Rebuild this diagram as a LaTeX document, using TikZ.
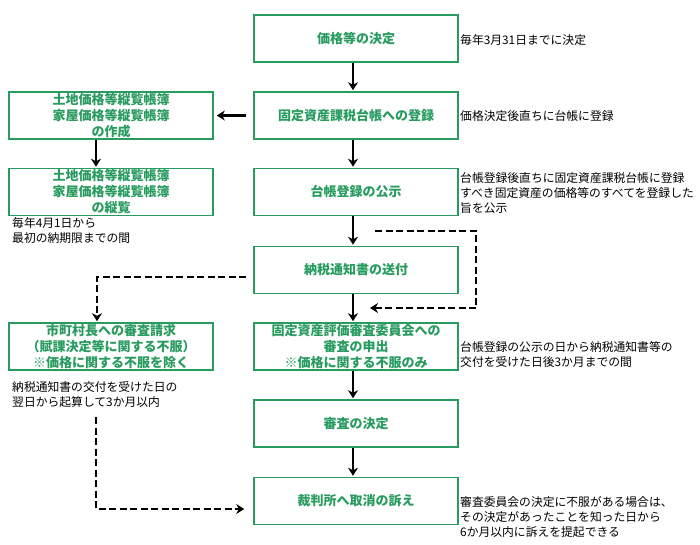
\documentclass[tikz,border=0pt]{standalone}
\usepackage{fontspec}
\newfontfamily\jp{Noto Sans CJK JP}
\usetikzlibrary{arrows.meta,calc}
\definecolor{boxgreen}{RGB}{40,155,95}
\begin{document}
\begin{tikzpicture}[x=1pt,y=-1pt,
  box/.style={draw=boxgreen, line width=1.6pt, minimum width=204pt, minimum height=47pt,
    inner sep=0pt, align=center, text=boxgreen, font=\jp\bfseries\fontsize{13}{16}\selectfont},
  note/.style={anchor=west, inner sep=0pt, align=left, font=\jp\fontsize{11.8}{15}\selectfont},
  arr/.style={-{Stealth[length=8pt,width=10pt]}, line width=2.2pt},
  darr/.style={arr, dash pattern=on 7pt off 3.5pt},
  dline/.style={line width=2.2pt, dash pattern=on 7pt off 3.5pt}
]
\useasboundingbox (0,0) rectangle (700,544);

% main column
\node[box] (b1) at (356,38.5) {価格等の決定};
\node[box] (b2) at (356,115.5) {固定資産課税台帳への登録};
\node[box] (b3) at (356,192) {台帳登録の公示};
\node[box] (b4) at (356,270) {納税通知書の送付};
\node[box] (b5) at (356,346.5) {固定資産評価審査委員会への\\審査の申出\\※価格に関する不服のみ};
\node[box] (b6) at (356,423.5) {審査の決定};
\node[box] (b7) at (356,501) {裁判所へ取消の訴え};

% left column
\node[box] (l1) at (111,115.5) {土地価格等縦覧帳簿\\家屋価格等縦覧帳簿\\の作成};
\node[box] (l2) at (111,192) {土地価格等縦覧帳簿\\家屋価格等縦覧帳簿\\の縦覧};
\node[box] (l3) at (111,346.5) {市町村長への審査請求\\（賦課決定等に関する不服）\\※価格に関する不服を除く};

% notes
\node[note] (n1) at (460,40) {毎年3月31日までに決定};
\node[note] (n2) at (460,116) {価格決定後直ちに台帳に登録};
\node[note] (n3) at (460,193) {台帳登録後直ちに固定資産課税台帳に登録\\すべき固定資産の価格等のすべてを登録した\\旨を公示};
\node[note] (n4) at (460,354.5) {台帳登録の公示の日から納税通知書等の\\交付を受けた日後3か月までの間};
\node[note] (n5) at (460,517) {審査委員会の決定に不服がある場合は、\\その決定があったことを知った日から\\6か月以内に訴えを提起できる};
\node[note] (n6) at (12,231) {毎年4月1日から\\最初の納期限までの間};
\node[note] (n7) at (12,394.5) {納税通知書の交付を受けた日の\\翌日から起算して3か月以内};

% main arrows
\foreach \a/\b in {b1/b2,b2/b3,b3/b4,b4/b5,b5/b6,b6/b7}{
  \draw[arr] ($(\a.south)+(-3,0)$) -- ($(\b.north)+(-3,-1)$);
}
\draw[arr] ($(b2.west)+(-7,0)$) -- ($(l1.east)+(3,0)$);
\draw[arr] ($(l1.south)+(-15,0)$) -- ($(l2.north)+(-15,-1)$);

% dashed
\draw[darr] ($(b4.west)+(-7,7)$) -| ($(l3.north)+(-14,-1)$);
\coordinate (r1) at (375,231);
\coordinate (r2) at (476,231);
\coordinate (r3) at (476,308);
\coordinate (r4) at (370,308);
\draw[dline] (r1) -- (r2) -- (r3);
\draw[darr] (r3) -- (r4);
\coordinate (d1) at (96,417);
\draw[darr] (d1) |- ($(b7.west)+(-9,8)$);
\end{tikzpicture}
\end{document}
